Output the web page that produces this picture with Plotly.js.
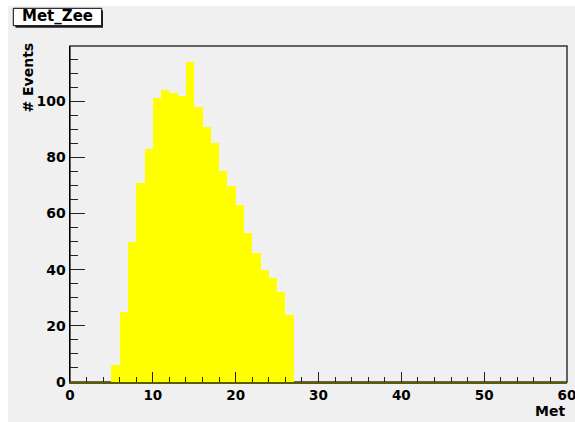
<!DOCTYPE html>
<html>
<head>
<meta charset="utf-8">
<script src="https://cdn.plot.ly/plotly-3.0.1.min.js"></script>
<style>
  html, body { margin: 0; padding: 0; background: #ffffff; }
  #plot { width: 575px; height: 422px; }
</style>
</head>
<body>
<div id="plot"></div>
<script>
// Met_Zee histogram: 60 bins of width 1 from 0 to 60
const histTitle = "Met_Zee";
const xTitle = "Met";
const yTitle = "# Events";
const binLow = 0;
const binWidth = 1;
const counts = [
  0, 0, 0, 0, 0, 6, 25, 50, 71, 83,
  101, 104, 103, 102, 114, 98, 91, 85, 75, 70,
  63, 53, 46, 40, 37, 32, 24, 0, 0, 0,
  0, 0, 0, 0, 0, 0, 0, 0, 0, 0,
  0, 0, 0, 0, 0, 0, 0, 0, 0, 0,
  0, 0, 0, 0, 0, 0, 0, 0, 0, 0
];
const xTicks = [0, 10, 20, 30, 40, 50, 60];
const yTicks = [0, 20, 40, 60, 80, 100];

const binCenters = counts.map((_, i) => binLow + (i + 0.5) * binWidth);
const yMax = 1.05 * Math.max(...counts);

const labelFont = { family: "DejaVu Sans", size: 14, weight: "bold", color: "#000000" };
const xLabelFont = { family: "DejaVu Sans", size: 13.5, weight: "bold", color: "#000000" };
const canvasGray = "#f0f0f0";

const trace = {
  type: "bar",
  x: binCenters,
  y: counts,
  width: binWidth,
  marker: { color: "#ffff00", line: { width: 0 } },
  hoverinfo: "x+y"
};

const layout = {
  width: 575,
  height: 422,
  margin: { l: 70, r: 8, t: 46, b: 40, pad: 0 },
  paper_bgcolor: canvasGray,
  plot_bgcolor: canvasGray,
  showlegend: false,
  bargap: 0,
  xaxis: {
    range: [0, 60.0005],
    tickmode: "array",
    tickvals: xTicks,
    ticktext: xTicks.map(String),
    ticklabeloverflow: "allow",
    ticks: "inside",
    ticklen: 10,
    tickwidth: 1,
    tickcolor: "#222222",
    minor: { dtick: 2, tick0: 0, ticks: "inside", ticklen: 5, tickwidth: 1, tickcolor: "#222222", showgrid: false },
    showline: true,
    linecolor: "#5c5c00",
    linewidth: 1.5,
    showgrid: false,
    zeroline: false,
    tickfont: xLabelFont,
    fixedrange: true
  },
  yaxis: {
    range: [0, yMax],
    tickmode: "array",
    tickvals: yTicks,
    ticktext: yTicks.map(String),
    ticks: "inside",
    ticklen: 15,
    tickwidth: 1,
    tickcolor: "#222222",
    minor: { dtick: 5, tick0: 0, ticks: "inside", ticklen: 7.5, tickwidth: 1, tickcolor: "#222222", showgrid: false },
    showline: true,
    linecolor: "#000000",
    linewidth: 1.5,
    showgrid: false,
    zeroline: false,
    tickfont: labelFont,
    fixedrange: true
  },
  shapes: [
    // white margins along the left and top of the canvas
    { type: "rect", layer: "below", xref: "paper", yref: "paper",
      xsizemode: "pixel", xanchor: 0, x0: -71, x1: -62, y0: -0.2, y1: 1.3,
      fillcolor: "#ffffff", line: { width: 0 } },
    { type: "rect", layer: "below", xref: "paper", yref: "paper",
      ysizemode: "pixel", yanchor: 1, y0: 47, y1: 40, x0: -0.2, x1: 1.1,
      fillcolor: "#ffffff", line: { width: 0 } },
    // frame around the pad
    { type: "rect", layer: "below", xref: "paper", yref: "paper",
      x0: 0, x1: 1, y0: 0, y1: 1,
      fillcolor: "rgba(0,0,0,0)", line: { color: "#333333", width: 1.5 } },
    // title box shadow and box
    { type: "rect", layer: "above", xref: "paper", yref: "paper",
      xsizemode: "pixel", xanchor: 0, x0: -54.5, x1: 33,
      ysizemode: "pixel", yanchor: 1, y0: 35.5, y1: 18.3,
      fillcolor: "#222222", line: { width: 0 } },
    { type: "rect", layer: "above", xref: "paper", yref: "paper",
      xsizemode: "pixel", xanchor: 0, x0: -56.7, x1: 31.7,
      ysizemode: "pixel", yanchor: 1, y0: 37.7, y1: 20.3,
      fillcolor: "#ffffff", line: { color: "#000000", width: 1 } }
  ],
  annotations: [
    { text: histTitle, xref: "paper", yref: "paper",
      x: -0.0252, y: 1.0885, xanchor: "center", yanchor: "middle",
      showarrow: false, font: { family: "DejaVu Sans", size: 15, weight: "bold", color: "#000000" } },
    { text: yTitle, xref: "paper", yref: "paper", textangle: -90,
      x: -0.0845, y: 0.906, xanchor: "center", yanchor: "middle",
      showarrow: false, font: { family: "DejaVu Sans", size: 14, weight: "bold", color: "#000000" } },
    { text: xTitle, xref: "paper", yref: "paper",
      x: 1, y: -0.087, xanchor: "right", yanchor: "middle",
      showarrow: false, font: { family: "DejaVu Sans", size: 14, weight: "bold", color: "#000000" } }
  ]
};

Plotly.newPlot("plot", [trace], layout, { staticPlot: true, displayModeBar: false });
</script>
</body>
</html>
